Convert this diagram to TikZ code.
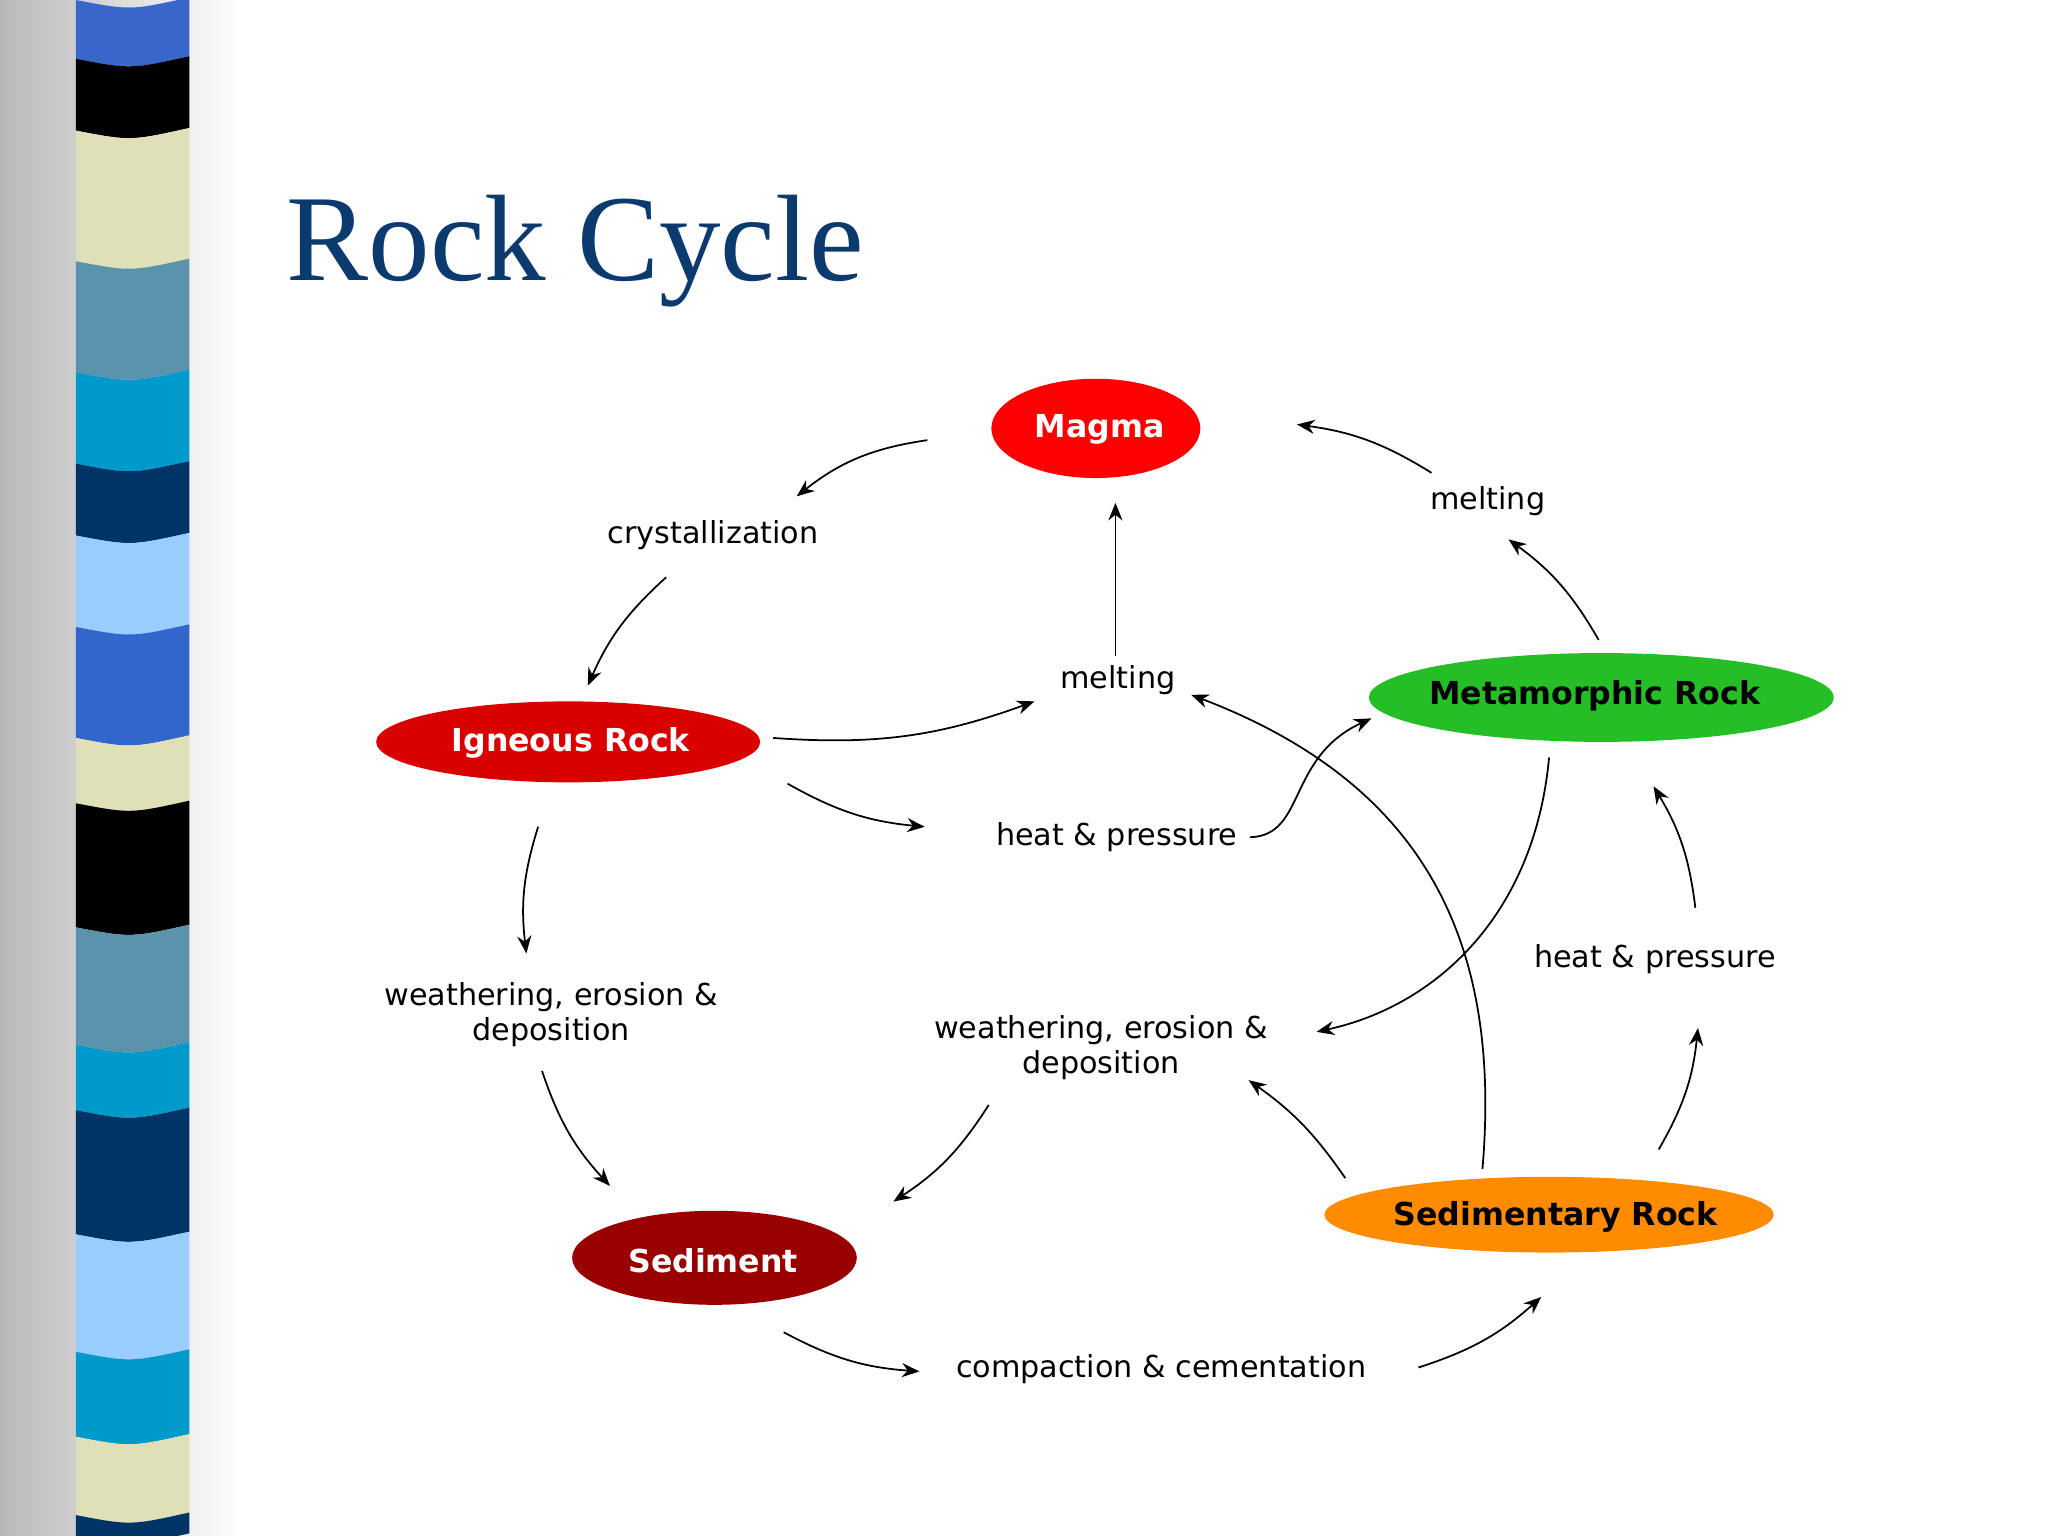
\documentclass[tikz,border=0pt]{standalone}
\usepackage{fontspec}
\setmainfont{DejaVu Sans}
\newfontfamily\titlefont{Liberation Serif}
\usetikzlibrary{arrows.meta}
\definecolor{titleblue}{HTML}{0B3A6E}
\tikzset {
    rock/.style = {inner sep = 1pt, font = \bfseries\fontsize{9}{11}\selectfont},
    process/.style = {font = \fontsize{8.6}{10}\selectfont, align = center},
    flow/.style = {-{Stealth[length = 5pt, width = 4pt]}, line width = 0.5pt}
}
\begin{document}
\begin{tikzpicture}[x = 0.01306cm, y = -0.01306cm]
    \useasboundingbox (0, 0) rectangle (1568, 1176);
    \fill[white] (0, 0) rectangle (1568, 1176);
    % side bar
    \shade[left color = gray!55, right color = white] (0, 0) rectangle (185, 1176);
    \foreach \ya/\yb/\col in {0/45/3A66CC, 45/100/000000, 100/200/E0E0B8,
        200/285/5A93AB, 285/355/0099CC, 355/410/003366, 410/480/99CCFF,
        480/565/3366CC, 565/615/E0E0B8, 615/710/000000, 710/800/5A93AB,
        800/850/0099CC, 850/945/003366, 945/1035/99CCFF, 1035/1100/0099CC,
        1100/1160/E0E0B8, 1160/1176/003366} {
        \definecolor{bandcol}{HTML}{\col}
        \fill[bandcol] (58, \ya) .. controls (100, \ya+8) .. (145, \ya-2)
            -- (145, \yb-2) .. controls (100, \yb+8) .. (58, \yb) -- cycle;
    }
    % title
    \node[anchor = base west, text = titleblue, font = \titlefont\fontsize{35}{40}\selectfont]
        (title) at (210, 215) {Rock Cycle};
    % rocks
    \fill[red] (839, 328) ellipse [x radius = 80, y radius = 38];
    \fill[red!85!black] (435, 568) ellipse [x radius = 147, y radius = 31];
    \fill[green!70!black!85] (1226, 534) ellipse [x radius = 178, y radius = 34];
    \fill[red!60!black] (547, 963) ellipse [x radius = 109, y radius = 36];
    \fill[orange!90!yellow] (1186, 930) ellipse [x radius = 172, y radius = 29];
    \node[rock, text = white] (magma) at (842, 329) {Magma};
    \node[rock, text = white] (igneous) at (437, 569) {Igneous Rock};
    \node[rock] (meta) at (1221, 533) {Metamorphic Rock};
    \node[rock, text = white] (sediment) at (546, 965) {Sediment};
    \node[rock] (sedrock) at (1191, 932) {Sedimentary Rock};
    % processes
    \node[process] (cryst) at (546, 410) {crystallization};
    \node[process] (melt1) at (856, 521) {melting};
    \node[process] (melt2) at (1139, 384) {melting};
    \node[process] (heat1) at (855, 641) {heat \& pressure};
    \node[process] (heat2) at (1267, 734) {heat \& pressure};
    \node[process] (weath1) at (422, 777) {weathering, erosion \&\\deposition};
    \node[process] (weath2) at (843, 802) {weathering, erosion \&\\deposition};
    \node[process] (compact) at (889, 1048) {compaction \& cementation};
    % connectors
    \draw[flow] (710, 337) to[bend right = 15] (610, 380);
    \draw[flow] (510, 442) to[bend right = 12] (450, 525);
    \draw[flow] (592, 565) to[bend right = 12] (792, 537);
    \draw[flow] (603, 600) to[bend right = 12] (708, 633);
    \draw[flow] (412, 633) to[bend right = 12] (403, 730);
    \draw[flow] (415, 820) to[bend right = 12] (467, 908);
    \draw[flow] (757, 846) to[bend left = 12] (684, 920);
    \draw[flow] (600, 1020) to[bend right = 12] (704, 1050);
    \draw[flow] (1086, 1047) to[bend right = 12] (1180, 993);
    \draw[flow] (1270, 880) to[bend right = 12] (1300, 787);
    \draw[flow] (1298, 695) to[bend right = 12] (1266, 602);
    \draw[flow] (1030, 902) to[bend right = 10] (956, 827);
    \draw[flow] (1186, 580) .. controls (1175, 700) and (1100, 770) .. (1008, 790);
    \draw[flow] (1135, 895) .. controls (1150, 720) and (1090, 600) .. (912, 532);
    \draw[flow] (854, 502) -- (854, 385);
    \draw[flow] (heat1.east) .. controls (1000, 640) and (985, 580) .. (1050, 550);
    \draw[flow] (1224, 490) to[bend right = 12] (1155, 413);
    \draw[flow] (1096, 362) to[bend right = 12] (993, 325);
\end{tikzpicture}
\end{document}
